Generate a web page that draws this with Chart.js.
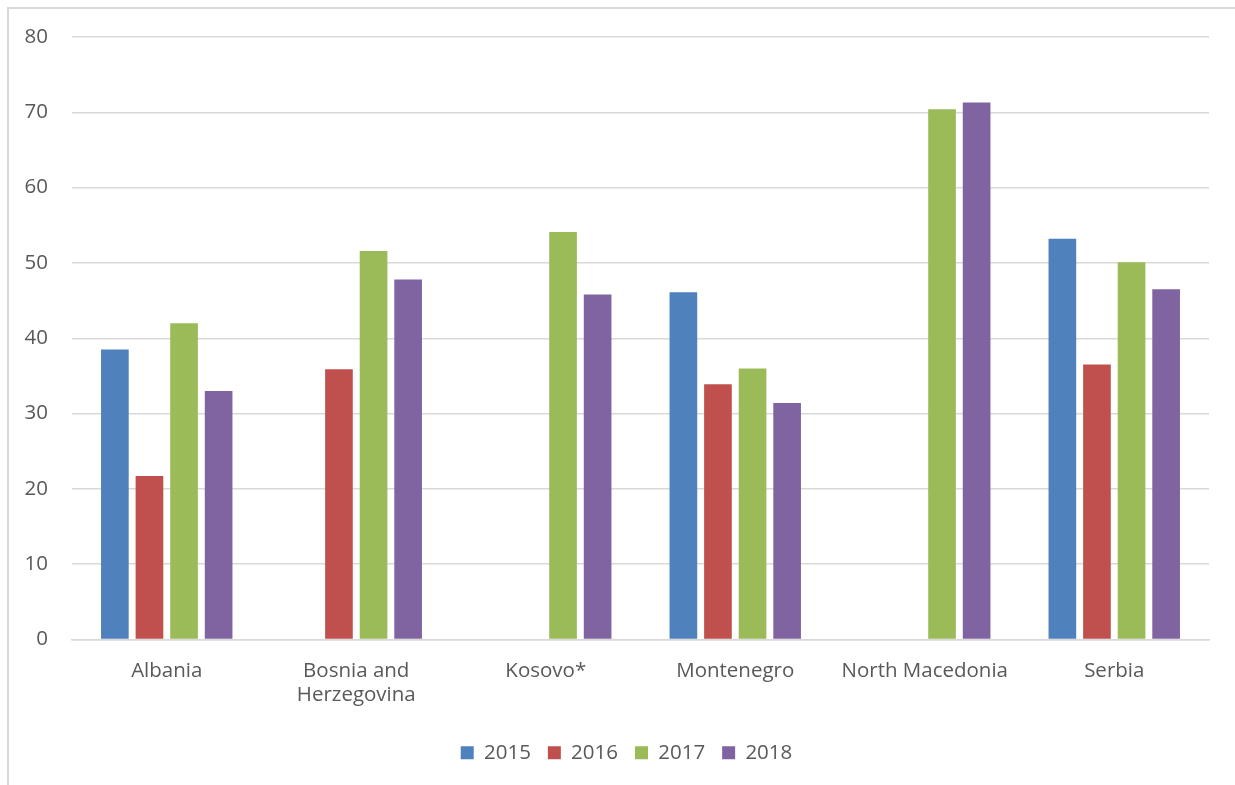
<!DOCTYPE html>
<html>
<head>
<meta charset="utf-8">
<script src="https://cdn.jsdelivr.net/npm/chart.js@4"></script>
<style>
  html, body { margin: 0; padding: 0; background: #fff; }
  #frame {
    position: absolute; left: 7px; top: 7px; width: 1228px; height: 778px;
    border-top: 2px solid #d9d9d9; border-left: 2px solid #d9d9d9;
  }
  #wrap { position: absolute; left: 0; top: 0; width: 1235px; height: 785px; }
</style>
</head>
<body>
<div id="frame"></div>
<div id="wrap"><canvas id="barChart"></canvas></div>
<script>
const countries = ['Albania', ['Bosnia and', 'Herzegovina'], 'Kosovo*', 'Montenegro', 'North Macedonia', 'Serbia'];
const years = ['2015', '2016', '2017', '2018'];
const values2015 = [38.5, null, null, 46.1, null, 53.2];
const values2016 = [21.7, 35.9, null, 33.9, null, 36.5];
const values2017 = [42.0, 51.6, 54.1, 36.0, 70.4, 50.1];
const values2018 = [33.0, 47.8, 45.8, 31.4, 71.3, 46.5];
const yTicks = [0, 10, 20, 30, 40, 50, 60, 70, 80];

const colors = ['#4f81bd', '#c0504d', '#9bbb59', '#8064a2'];
const series = [values2015, values2016, values2017, values2018];
const textColor = '#595959';
const font = { family: 'Open Sans', size: 20.5 };

Chart.defaults.animation = false;

// legend in the original sits a bit right of the canvas centre
const shiftLegend = {
    id: 'shiftLegend',
    afterLayout(chart) {
        chart.legend.left += 22;
        chart.legend.right += 22;
    }
};

new Chart(document.getElementById('barChart'), {
    type: 'bar',
    data: {
        labels: countries,
        datasets: series.map((vals, i) => ({
            label: years[i],
            data: vals,
            backgroundColor: colors[i],
            borderWidth: 0,
            barPercentage: 0.8,
            categoryPercentage: 0.73
        }))
    },
    options: {
        responsive: true,
        maintainAspectRatio: false,
        layout: { padding: { top: 37, right: 26, bottom: 12, left: 0 } },
        plugins: {
            legend: {
                position: 'bottom',
                labels: {
                    color: textColor,
                    font: font,
                    boxWidth: 13,
                    boxHeight: 13,
                    padding: 17
                }
            },
            tooltip: { enabled: false }
        },
        scales: {
            x: {
                grid: { display: false },
                border: { color: '#d9d9d9', width: 1.5 },
                ticks: { color: textColor, font: font, padding: 11, maxRotation: 0, lineHeight: 1.35 },
                afterFit: scale => { scale.height = 86; }
            },
            y: {
                min: 0,
                max: 80,
                afterBuildTicks: scale => { scale.ticks = yTicks.map(v => ({ value: v })); },
                grid: { color: '#d9d9d9', lineWidth: 1.5, drawTicks: false },
                border: { display: false },
                ticks: { color: textColor, font: font, padding: 24 },
                afterFit: scale => { scale.width = 72; }
            }
        }
    },
    plugins: [shiftLegend]
});
</script>
</body>
</html>
